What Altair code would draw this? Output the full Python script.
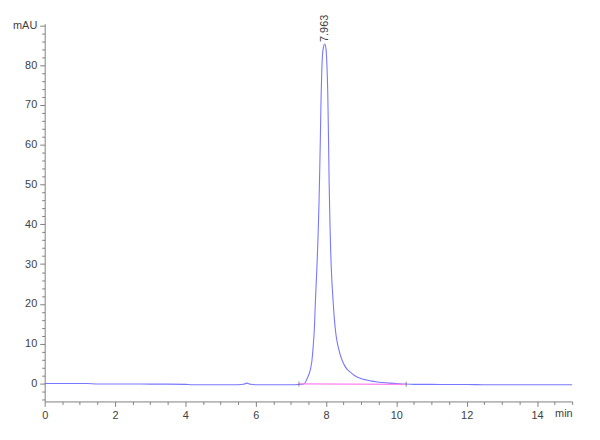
import altair as alt
import pandas as pd

# chromatogram trace (time in min, absorbance in mAU)
times = [0.0, 0.5, 1.0, 1.2, 1.5, 2.0, 2.5, 3.0, 3.5, 4.0, 4.2, 4.5, 5.0, 5.5,
         5.65, 5.75, 5.85, 6.0, 6.5, 7.0, 7.2, 7.3, 7.37, 7.42, 7.46, 7.51,
         7.56, 7.60, 7.63, 7.67, 7.70, 7.74, 7.77, 7.80, 7.82, 7.84, 7.86,
         7.88, 7.90, 7.93, 7.963, 8.00, 8.03, 8.05, 8.07, 8.09, 8.11, 8.13,
         8.16, 8.20, 8.24, 8.28, 8.32, 8.36, 8.42, 8.47, 8.53, 8.59, 8.70,
         8.80, 8.90, 9.01, 9.15, 9.30, 9.45, 9.60, 9.80, 10.0, 10.2, 10.5,
         11.0, 11.5, 12.0, 12.5, 13.0, 13.5, 14.0, 14.5, 15.0]
mau = [0.0, 0.0, 0.0, 0.0, -0.1, -0.1, -0.1, -0.15, -0.15, -0.2, -0.3, -0.3,
       -0.3, -0.3, -0.2, 0.1, -0.2, -0.3, -0.3, -0.3, -0.25, -0.2, -0.1, 0.4,
       1.2, 2.2, 3.7, 5.8, 8.7, 14.0, 21.0, 29.0, 36.0, 45.0, 53.0, 62.0,
       72.0, 78.5, 82.5, 84.6, 85.3, 84.0, 79.0, 73.0, 62.0, 50.0, 41.0,
       34.0, 27.0, 21.0, 16.0, 12.5, 10.3, 8.7, 6.8, 5.6, 4.5, 3.7, 2.8,
       2.1, 1.6, 1.2, 0.9, 0.6, 0.4, 0.25, 0.1, 0.0, -0.1, -0.2, -0.2,
       -0.25, -0.25, -0.3, -0.3, -0.3, -0.3, -0.3, -0.3]

# integration baseline and peak label
base_t = [7.23, 10.28]
base_v = [-0.1, -0.2]
peak_t = [7.963]
peak_v = [85.3]
peak_lbl = ["7.963"]

x_ticks = [i * 0.5 for i in range(31)]
y_ticks = list(range(-4, 91, 2))

trace = pd.DataFrame({"t": times, "v": mau})
base = pd.DataFrame({"t": base_t, "v": base_v})
peak = pd.DataFrame({"t": peak_t, "v": peak_v, "lbl": peak_lbl})

FONT = "Liberation Sans Narrow, Liberation Sans, Arial, sans-serif"

xs = alt.Scale(domain=[0, 15], nice=False, zero=False)
ys = alt.Scale(domain=[-4.5, 90.4], nice=False, zero=False)

x_axis = alt.Axis(
    values=x_ticks, tickCount=200, title=None, grid=False,
    labelExpr="datum.value == 15 ? 'min' : (datum.value % 2 == 0 ? '' + datum.value : '')",
    labelAlign={"condition": {"test": "datum.value == 15", "value": "right"}, "value": "center"},
    tickSize={"condition": {"test": "datum.value % 2 == 0", "value": 5}, "value": 3},
    labelFlush=False, labelOverlap=False, labelPadding=3,
    domainColor="#808080", tickColor="#808080", labelColor="#404040",
    labelFont=FONT, labelFontSize=11,
)
y_axis = alt.Axis(
    values=y_ticks, tickCount=200, title=None, grid=False,
    labelExpr="datum.value == 90 ? 'mAU' : (datum.value % 10 == 0 ? '' + datum.value : '')",
    tickSize={"condition": {"test": "datum.value % 10 == 0", "value": 5}, "value": 3},
    labelOverlap=False, labelPadding=3, labelFlush=False,
    domainColor="#808080", tickColor="#808080", labelColor="#404040",
    labelFont=FONT, labelFontSize=11,
)

line = alt.Chart(trace).mark_line(color="#7878ff", strokeWidth=1.1, interpolate="monotone").encode(
    x=alt.X("t:Q", scale=xs, axis=x_axis),
    y=alt.Y("v:Q", scale=ys, axis=y_axis),
)
bl = alt.Chart(base).mark_line(color="#ff80f0", strokeWidth=1.3).encode(
    x=alt.X("t:Q"), y=alt.Y("v:Q")
)
bt = alt.Chart(base).mark_tick(color="#606060", size=5, thickness=1, orient="vertical").encode(
    x=alt.X("t:Q"), y=alt.Y("v:Q")
)
lbl = alt.Chart(peak).mark_text(
    angle=270, align="left", baseline="middle", dx=2, font=FONT, fontSize=11, color="#404040"
).encode(x=alt.X("t:Q"), y=alt.Y("v:Q"), text="lbl:N")

chart = alt.layer(line, bl, bt, lbl).properties(
    width=532, height=381,
    background="white",
    autosize=alt.AutoSizeParams(type="none"),
    padding={"left": 37, "top": 14, "right": 20, "bottom": 30},
).configure_view(stroke=None).configure_axis(labelOverlap=False)

chart.save("out.html", embed_options={"renderer": "svg", "actions": False})
